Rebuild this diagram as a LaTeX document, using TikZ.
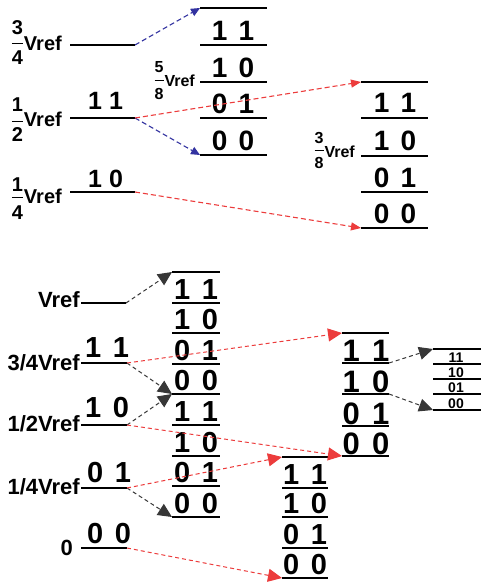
\documentclass[tikz,border=0pt]{standalone}
\usepackage{fontspec}
\setmainfont{Liberation Sans}
\usetikzlibrary{arrows.meta}
\definecolor{myblue}{RGB}{50,50,160}
\definecolor{myred}{RGB}{236,60,60}
\definecolor{mygray}{RGB}{55,55,55}
\newcommand\fs[1]{\fontsize{#1}{#1}\selectfont\bfseries}
% fraction: numerator, denominator, raise, lower, bar height
\newcommand\myfr[5]{%
  \setbox0\hbox{#1}\setbox2\hbox{#2}%
  \dimen0=\wd0 \ifdim\wd2>\dimen0 \dimen0=\wd2\fi
  \rlap{\hbox to\dimen0{\hss\raisebox{#3}{\box0}\hss}}%
  \rlap{\hbox to\dimen0{\hss\raisebox{-#4}{\box2}\hss}}%
  \rule[#5]{\dimen0}{0.9pt}\hspace{1pt}}
\newcommand\dd[2]{#1\hspace{0.4em}#2}
\tikzset{
  lvA/.style={line width=1.9pt},
  lvB/.style={line width=1.5pt},
  lvC/.style={line width=1.2pt},
  inA/.style={line width=1.9pt},
  inB/.style={line width=1.1pt},
  dg/.style={inner sep=0pt, anchor=base, font=\fs{#1}},
  lab/.style={inner sep=0pt, anchor=base west, font=\fs{#1}},
  flab/.style={inner sep=0pt, anchor=base east, font=\fs{#1}},
  blab/.style={inner sep=0pt, anchor=base east, font=\fs{22}},
  barr/.style={draw=myblue, line width=1.1pt, dash pattern=on 5pt off 3pt, -{Triangle[length=9pt,width=8pt]}},
  rarrA/.style={draw=myred, line width=1.1pt, dash pattern=on 5pt off 3pt, -{Triangle[length=10pt,width=8pt]}},
  rarrB/.style={draw=myred, line width=1pt, dash pattern=on 4pt off 3pt, -{Triangle[length=14pt,width=13pt]}},
  karr/.style={draw=mygray, line width=1pt, dash pattern=on 4pt off 3pt, -{Triangle[length=14pt,width=13pt]}},
}
\begin{document}
\begin{tikzpicture}[x=1pt,y=-1pt]
\useasboundingbox (0,0) rectangle (481,585);

% ---------- top section ----------
\draw[inA] (70,45) -- (135,45) coordinate (t34);
\draw[inA] (70,118) -- (135,118) coordinate (t12);
\draw[inA] (70,192) -- (135,192) coordinate (t14);
\node[flab=20] (lt34) at (62,51) {\myfr{3}{4}{16pt}{14pt}{7pt}Vref};
\node[flab=20] (lt12) at (62,127) {\myfr{1}{2}{15pt}{15pt}{5pt}Vref};
\node[flab=20] (lt14) at (62,204) {\myfr{1}{4}{12pt}{16pt}{6pt}Vref};
\node[lab=25] (tl11) at (88,110) {1 1};
\node[lab=25] (tl10) at (88,187) {1 0};

\foreach \y [count=\i] in {8,45,82,118,155}
  \draw[lvA] (200,\y) coordinate (m\i) -- (267,\y);
\foreach \y/\t [count=\i] in {41/\dd11,78/\dd10,114/\dd01,151/\dd00}
  \node[dg=28] (mt\i) at (233,\y) {\t};
\node[flab=16] (l58) at (195,87) {\myfr{5}{8}{14pt}{13pt}{6pt}Vref};

\foreach \y [count=\i] in {82,118,156,192,228}
  \draw[lvA] (361,\y) coordinate (r\i) -- (428,\y);
\foreach \y/\t [count=\i] in {113/\dd11,151/\dd10,187/\dd01,223/\dd00}
  \node[dg=28] (rt\i) at (395,\y) {\t};
\node[flab=16] (l38) at (355,158) {\myfr{3}{8}{14pt}{11pt}{7pt}Vref};

\draw[barr] (t34) -- (m1);
\draw[barr] (t12) -- (m5);
\draw[rarrA] (t12) -- (r1);
\draw[rarrA] (t14) -- (r5);

% ---------- bottom section ----------
\draw[inB] (81,303) -- (126,303) coordinate (bv);
\draw[inB] (81,363) -- (127,363) coordinate (b34);
\draw[inB] (81,425) -- (127,425) coordinate (b12);
\draw[inB] (81,488) -- (127,488) coordinate (b14);
\draw[inB] (81,548) -- (127,548) coordinate (b0);
\node[blab] (lbv) at (80,307) {Vref};
\node[blab] (lb34) at (80,370) {3/4Vref};
\node[blab] (lb12) at (80,431) {1/2Vref};
\node[blab] (lb14) at (80,494) {1/4Vref};
\node[blab] (lb0) at (73,555) {0};
\node[lab=29] (bl11) at (85,357) {\dd11};
\node[lab=29] (bl10) at (85,417) {\dd10};
\node[lab=29] (bl01) at (87,482) {\dd01};
\node[lab=29] (bl00) at (87,543) {\dd00};

\foreach \y [count=\i] in {272,303,333,364,394,425,456,486,517}
  \draw[lvB] (172,\y) coordinate (s\i) -- (220,\y);
\foreach \y/\t [count=\i] in {299/\dd11,329/\dd10,360/\dd01,390/\dd00,421/\dd11,452/\dd10,482/\dd01,513/\dd00}
  \node[dg=29] (st\i) at (196,\y) {\t};

\foreach \y [count=\i] in {333,363,394,426,456}
  \draw[lvB] (342,\y) coordinate (q\i) -- (389,\y) coordinate (qe\i);
\foreach \y/\t [count=\i] in {361/\dd11,392/\dd10,424/\dd01,454/\dd00}
  \node[dg=31] (qt\i) at (366,\y) {\t};

\foreach \y [count=\i] in {457,488,517,548,578}
  \draw[lvB] (282,\y) coordinate (p\i) -- (328,\y);
\foreach \y/\t [count=\i] in {484/\dd11,513/\dd10,544/\dd01,574/\dd00}
  \node[dg=29] (pt\i) at (305,\y) {\t};

\foreach \y [count=\i] in {349,364,379,394,410}
  \draw[lvC] (433,\y) coordinate (u\i) -- (481,\y);
\foreach \y/\t [count=\i] in {362.5/11,377.5/10,392.5/01,408.5/00}
  \node[dg=14] (ut\i) at (456,\y) {\t};

\draw[karr] (bv) -- (s1);
\draw[karr] (b34) -- (s5);
\draw[karr] (b12) -- (s5);
\draw[karr] (b14) -- (s9);
\draw[rarrB] (b34) -- (q1);
\draw[rarrB] (b12) -- (q5);
\draw[rarrB] (b14) -- (p1);
\draw[rarrB] (b0) -- (p5);
\draw[karr] (qe2) -- (u1);
\draw[karr] (qe3) -- (u5);
\end{tikzpicture}
\end{document}
